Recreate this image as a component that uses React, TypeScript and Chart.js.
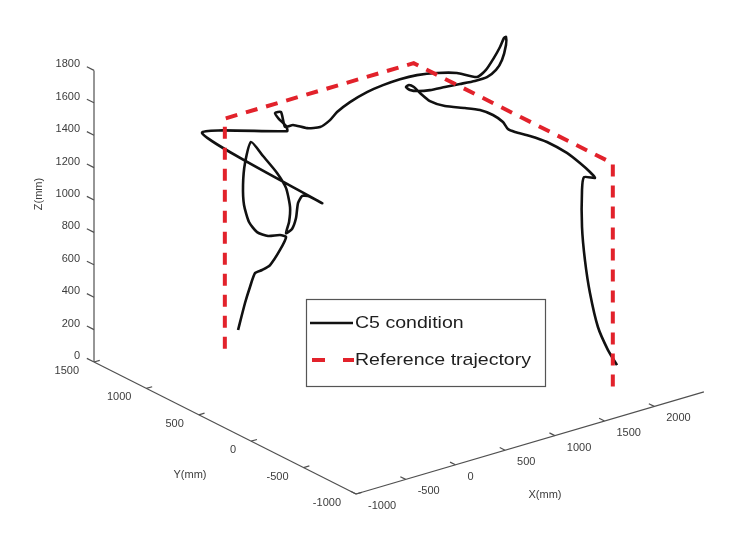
import React, { useEffect, useRef } from 'react';
import { Chart, registerables } from 'chart.js';

Chart.register(...registerables);

const W = 739;
const H = 533;

// Axis ranges (mm)
const xRange = [-1000, 2500];
const yRange = [-1000, 1500];
const zRange = [0, 1800];

// Tick values
const xTicks = [-1000, -500, 0, 500, 1000, 1500, 2000];
const yTicks = [1500, 1000, 500, 0, -500, -1000];
const zTicks = [0, 200, 400, 600, 800, 1000, 1200, 1400, 1600, 1800];

const axisTitles = ['X(mm)', 'Y(mm)', 'Z(mm)'];
const seriesLabels = ['C5 condition', 'Reference trajectory'];

// C5 condition trajectory (mm)
const c5X = [133, 203, 253, 304, 374, 455, 555, 616, 555, 435, 324, 243, 193, 183, 203, 264, 384, 525, 616, 656, 646, 616, 676, 716, 736, 777, 837, 978, -229, 626, 616, 545, 505, 565, 606, 686, 827, 958, 1058, 1129, 1259, 1430, 1591, 1762, 1933, 2135, 2200, 2200, 2200, 2200, 2200, 2200, 2200, 2200, 2200, 2200, 2200, 2200, 1900, 1900, 1900, 1900, 1900, 1900, 1900, 1900, 1900, 1900, 1900, 1900, 1900, 1900, 1900, 1900, 1900, 1900, 1900, 1900, 1900, 1900, 1900, 1900, 1900, 1900, 1900, 1900, 1900, 1900, 1900];
const c5Y = [1200, 1200, 1200, 1200, 1200, 1200, 1200, 1200, 1200, 1200, 1200, 1200, 1200, 1200, 1200, 1200, 1200, 1200, 1200, 1200, 1200, 1200, 1200, 1200, 1200, 1200, 1200, 1200, 1200, 1200, 1200, 1200, 1200, 1200, 1200, 1200, 1200, 1200, 1200, 1200, 1200, 1200, 1200, 1200, 1200, 1200, 1072, 881, 795, 719, 661, 623, 604, 604, 642, 699, 785, 900, 759, 902, 1045, 1159, 1236, 1274, 1245, 1198, 1140, 1045, 902, 711, 568, 444, 348, 301, 234, 91, -72, -262, -386, -482, -530, -425, -406, -406, -434, -482, -558, -654, -740];
const c5Z = [91, 245, 335, 412, 418, 434, 509, 578, 601, 617, 661, 738, 852, 977, 1109, 1228, 1120, 990, 880, 756, 665, 602, 617, 677, 766, 802, 791, 722, 1372, 1230, 1263, 1319, 1363, 1359, 1259, 1257, 1212, 1195, 1220, 1257, 1295, 1326, 1340, 1346, 1340, 1317, 1347, 1384, 1456, 1555, 1641, 1709, 1722, 1672, 1567, 1487, 1415, 1354, 1435, 1370, 1304, 1261, 1243, 1248, 1270, 1273, 1255, 1236, 1252, 1302, 1336, 1346, 1334, 1306, 1310, 1332, 1348, 1342, 1320, 1296, 1275, 1246, 1160, 932, 737, 549, 364, 253, 188];

// Reference trajectory (mm)
const refX = [0, 0, 1900, 1900, 1900];
const refY = [1200, 1200, 1200, -700, -700];
const refZ = [0, 1420, 1420, 1420, 0];

// Oblique 3D view: screen origin of the (xmin, ymax, zmin) corner and screen step per mm along each axis
const VIEW = {
  ox: 94,
  oy: 362,
  xv: [0.0994, -0.0292],
  yv: [-0.1048, -0.0528],
  zv: [0, -0.162],
};

function proj(X: number, Y: number, Z: number) {
  const a = X - xRange[0];
  const b = Y - yRange[1];
  const c = Z - zRange[0];
  return {
    x: VIEW.ox + VIEW.xv[0] * a + VIEW.yv[0] * b + VIEW.zv[0] * c,
    y: VIEW.oy + VIEW.xv[1] * a + VIEW.yv[1] * b + VIEW.zv[1] * c,
  };
}

function unit(v: number[]) {
  const l = Math.hypot(v[0], v[1]);
  return [v[0] / l, v[1] / l];
}

const AXIS_COLOR = '#505050';
const TICK_FONT = '11px "Liberation Sans", Arial, Helvetica, sans-serif';
const LEGEND_FONT = '17px "Liberation Sans", Arial, Helvetica, sans-serif';

const axesPlugin = {
  id: 'axes3d',
  beforeDatasetsDraw(chart: any) {
    const ctx = chart.ctx as CanvasRenderingContext2D;
    const sx = chart.scales.x;
    const sy = chart.scales.y;
    const P = (X: number, Y: number, Z: number) => {
      const p = proj(X, Y, Z);
      return [sx.getPixelForValue(p.x), sy.getPixelForValue(p.y)];
    };
    const dirX = unit(VIEW.xv);
    const dirY = unit(VIEW.yv);
    ctx.save();
    ctx.strokeStyle = AXIS_COLOR;
    ctx.lineWidth = 1.2;
    const seg = (p: number[], q: number[]) => {
      ctx.beginPath();
      ctx.moveTo(p[0], p[1]);
      ctx.lineTo(q[0], q[1]);
      ctx.stroke();
    };
    // axis lines
    seg(P(xRange[0], yRange[1], zRange[0]), P(xRange[0], yRange[1], zRange[1]));
    seg(P(xRange[0], yRange[1], zRange[0]), P(xRange[0], yRange[0], zRange[0]));
    seg(P(xRange[0], yRange[0], zRange[0]), P(xRange[1], yRange[0], zRange[0]));

    ctx.fillStyle = '#3c3c3c';
    ctx.font = TICK_FONT;
    ctx.textBaseline = 'middle';

    // Z ticks
    ctx.textAlign = 'right';
    for (const z of zTicks) {
      const p = P(xRange[0], yRange[1], z);
      seg(p, [p[0] + dirY[0] * 8, p[1] + dirY[1] * 8]);
      ctx.fillText(String(z), p[0] - 14, p[1] - 6);
    }
    // Y ticks
    for (const y of yTicks) {
      const p = P(xRange[0], y, zRange[0]);
      seg(p, [p[0] + dirX[0] * 6, p[1] + dirX[1] * 6]);
      ctx.fillText(String(y), p[0] - 15, p[1] + 9);
    }
    // X ticks
    ctx.textAlign = 'left';
    for (const x of xTicks) {
      const p = P(x, yRange[0], zRange[0]);
      seg(p, [p[0] + dirY[0] * 6, p[1] + dirY[1] * 6]);
      ctx.fillText(String(x), p[0] + 12, p[1] + 12);
    }
    // axis titles
    ctx.textAlign = 'center';
    ctx.fillText(axisTitles[0], 545, 495);
    ctx.fillText(axisTitles[1], 190, 475);
    ctx.save();
    ctx.translate(39, 194);
    ctx.rotate(-Math.PI / 2);
    ctx.fillText(axisTitles[2], 0, 0);
    ctx.restore();
    ctx.restore();
  },
};

const legendPlugin = {
  id: 'boxLegend',
  afterDatasetsDraw(chart: any) {
    const ctx = chart.ctx as CanvasRenderingContext2D;
    const ds = chart.data.datasets;
    ctx.save();
    ctx.fillStyle = '#ffffff';
    ctx.fillRect(306, 299, 239, 87);
    ctx.strokeStyle = '#555555';
    ctx.lineWidth = 1.2;
    ctx.strokeRect(306.5, 299.5, 239, 87);

    // row 1: C5
    ctx.strokeStyle = ds[1].borderColor;
    ctx.lineWidth = ds[1].borderWidth;
    ctx.setLineDash([]);
    ctx.beginPath();
    ctx.moveTo(310, 323);
    ctx.lineTo(353, 323);
    ctx.stroke();
    // row 2: reference
    ctx.strokeStyle = ds[0].borderColor;
    ctx.lineWidth = ds[0].borderWidth;
    ctx.setLineDash([13, 18]);
    ctx.beginPath();
    ctx.moveTo(312, 360);
    ctx.lineTo(354, 360);
    ctx.stroke();
    ctx.setLineDash([]);

    ctx.fillStyle = '#1e1e1e';
    ctx.font = LEGEND_FONT;
    ctx.textBaseline = 'middle';
    ctx.textAlign = 'left';
    const text = (s: string, x: number, y: number) => {
      ctx.save();
      ctx.translate(x, y);
      ctx.scale(1.15, 1);
      ctx.fillText(s, 0, 0);
      ctx.restore();
    };
    text(ds[1].label, 355, 323);
    text(ds[0].label, 355, 360);
    ctx.restore();
  },
};

export default function App() {
  const ref = useRef<HTMLCanvasElement | null>(null);
  useEffect(() => {
    if (!ref.current) return;
    const c5 = c5X.map((x, i) => proj(x, c5Y[i], c5Z[i]));
    const rt = refX.map((x, i) => proj(x, refY[i], refZ[i]));
    const chart = new Chart(ref.current, {
      type: 'scatter',
      data: {
        datasets: [
          {
            label: seriesLabels[1],
            data: rt,
            showLine: true,
            borderColor: '#e2222b',
            borderWidth: 4,
            borderDash: [12, 9],
            pointRadius: 0,
            tension: 0,
            order: 0,
          } as any,
          {
            label: seriesLabels[0],
            data: c5,
            showLine: true,
            borderColor: '#111111',
            borderWidth: 2.6,
            pointRadius: 0,
            tension: 0.2,
            order: 1,
          } as any,
        ],
      },
      options: {
        animation: false,
        responsive: false,
        maintainAspectRatio: false,
        layout: { padding: 0 },
        events: [],
        plugins: { legend: { display: false }, tooltip: { enabled: false } },
        scales: {
          x: { type: 'linear', min: 0, max: W, display: false },
          y: { type: 'linear', min: 0, max: H, reverse: true, display: false },
        },
      },
      plugins: [axesPlugin, legendPlugin],
    });
    return () => chart.destroy();
  }, []);
  return (
    <div style={{ position: 'fixed', left: 0, top: 0, width: W, height: H, background: '#fff' }}>
      <canvas ref={ref} width={W} height={H} style={{ display: 'block' }} />
    </div>
  );
}
